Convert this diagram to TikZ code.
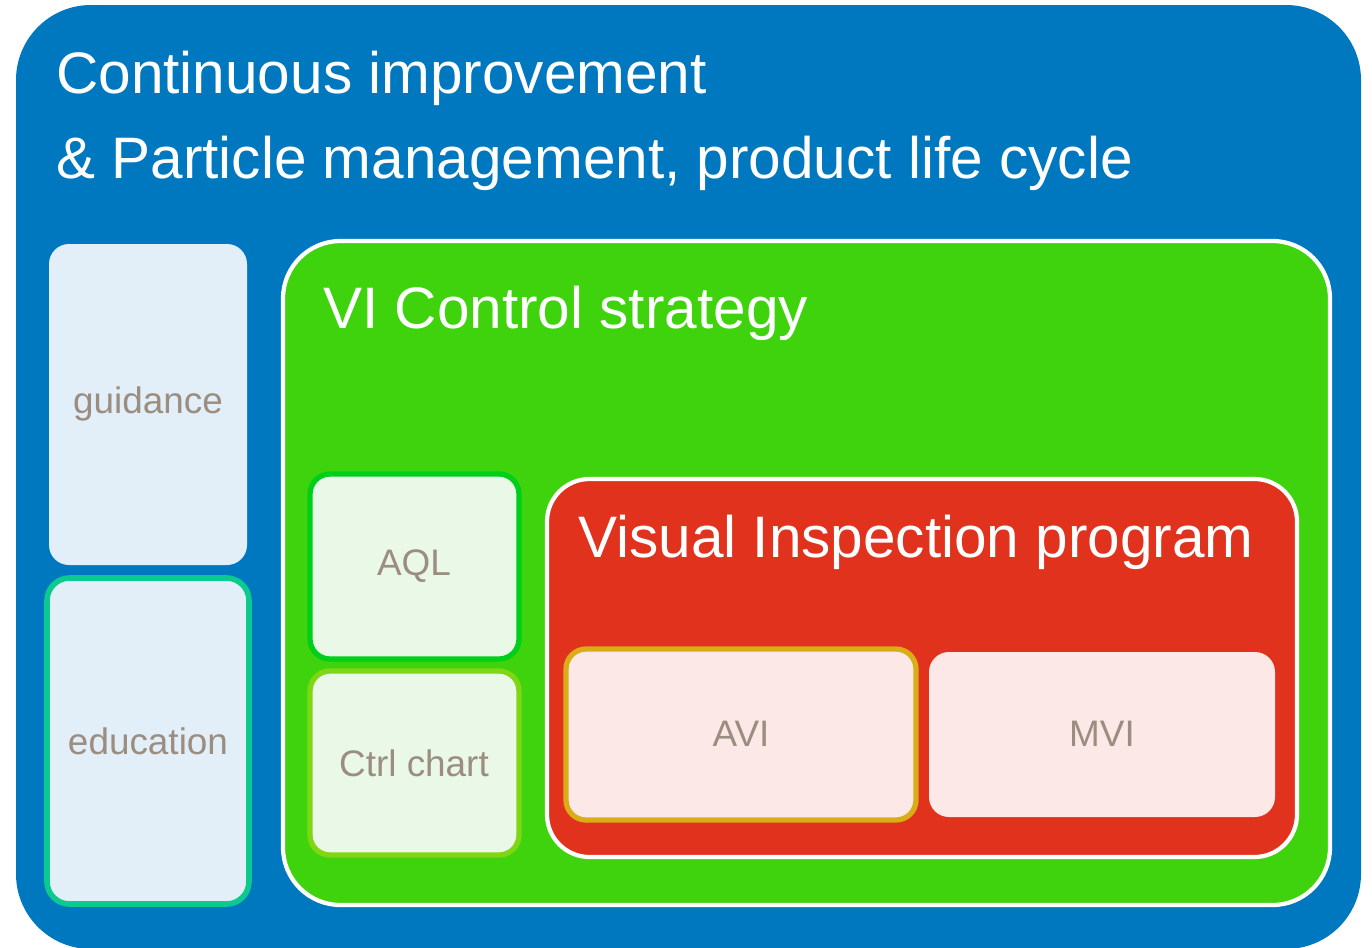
\documentclass[tikz,border=0pt]{standalone}
\usepackage{fontspec}
\setmainfont{Liberation Sans}
\usetikzlibrary{fit}
\definecolor{outerblue}{RGB}{0,120,192}
\definecolor{vigreen}{RGB}{63,211,14}
\definecolor{vired}{RGB}{224,50,28}
\definecolor{lblue}{RGB}{227,239,248}
\definecolor{lgreen}{RGB}{234,248,231}
\definecolor{lred}{RGB}{252,233,231}
\definecolor{teal}{RGB}{12,201,143}
\definecolor{aqlg}{RGB}{0,207,26}
\definecolor{ctrlg}{RGB}{128,214,20}
\definecolor{avigold}{RGB}{218,172,24}
\definecolor{labelgray}{RGB}{155,141,128}
\tikzset{
  frame/.style={inner sep=0pt, outer sep=0pt, rectangle},
  bigtitle/.style={anchor=base west, text=white, font=\fontsize{33.3}{40}\selectfont, inner sep=0pt},
  lbl/.style={text=labelgray, font=\fontsize{21}{24}\selectfont, inner sep=0pt},
}
\begin{document}
\begin{tikzpicture}[x=0.02cm,y=-0.02cm]
\useasboundingbox (0,0) rectangle (1372,947);
% outer blue
\node[frame, fill=outerblue, rounded corners=1.5cm, fit={(16,5) (1361,949)}] (outer) {};
\node[bigtitle] (t1) at (56,93) {Continuous improvement};
\node[bigtitle] (t2) at (56,178) {\& Particle management, product life cycle};
% left column
\node[frame, fill=lblue, rounded corners=0.4cm, fit={(49,244) (247,565)}] (guid) {};
\node[lbl] at (148,404) {guidance};
\node[frame, fill=lblue, draw=teal, line width=3.2pt, rounded corners=0.45cm, fit={(47,578) (249,904)}] (edu) {};
\node[lbl] at (148,741) {education};
% green box
\node[frame, fill=vigreen, draw=white, line width=2.4pt, rounded corners=1.15cm, fit={(283,241) (1330,905)}] (vi) {};
\node[bigtitle] (t3) at (323,328) {VI Control strategy};
% AQL and Ctrl chart
\node[frame, fill=lgreen, draw=aqlg, line width=3pt, rounded corners=0.4cm, fit={(310,474) (519,659)}] (aql) {};
\node[lbl] at (414,566) {AQL};
\node[frame, fill=lgreen, draw=ctrlg, line width=3pt, rounded corners=0.4cm, fit={(310,671) (519,855)}] (ctrl) {};
\node[lbl] at (414,763) {Ctrl chart};
% red box
\node[frame, fill=vired, draw=white, line width=2.4pt, rounded corners=0.85cm, fit={(547,479) (1297,857)}] (vip) {};
\node[bigtitle] (t4) at (578,557) {Visual Inspection program};
% AVI / MVI
\node[frame, fill=lred, draw=avigold, line width=3pt, rounded corners=0.4cm, fit={(566,649) (916,820)}] (avi) {};
\node[lbl] at (741,734) {AVI};
\node[frame, fill=lred, rounded corners=0.4cm, fit={(929,652) (1275,817)}] (mvi) {};
\node[lbl] at (1102,734) {MVI};
\end{tikzpicture}
\end{document}
